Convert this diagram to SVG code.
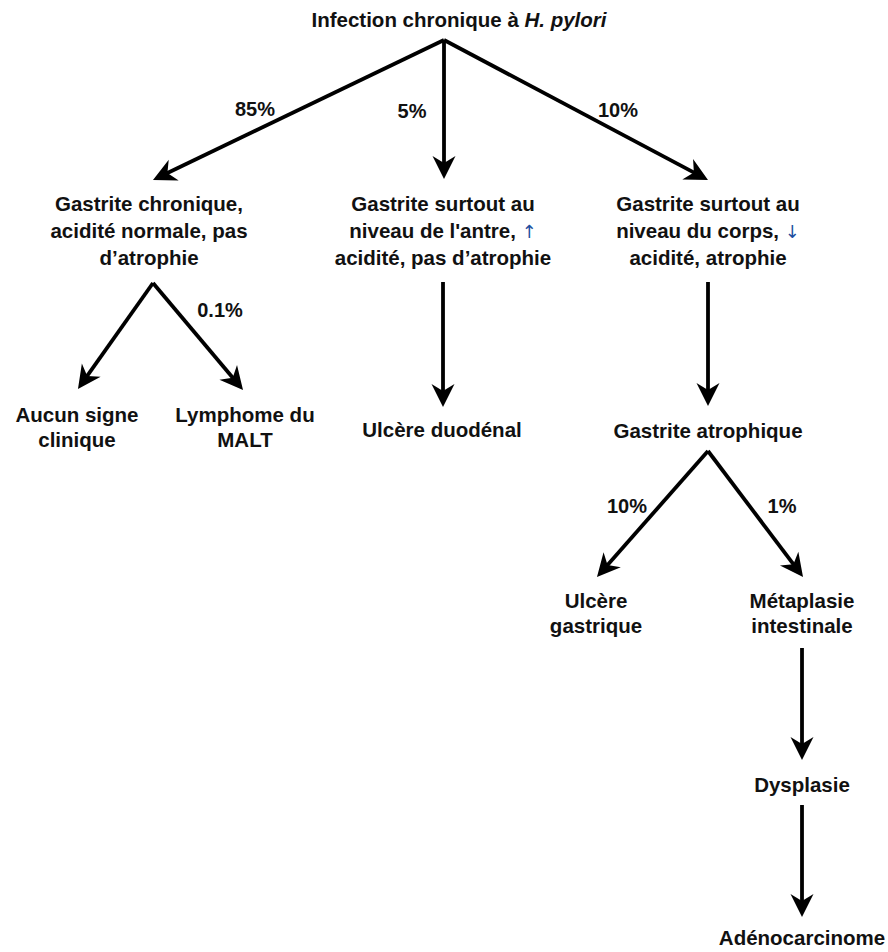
<svg xmlns="http://www.w3.org/2000/svg" width="888" height="952" viewBox="0 0 888 952">
<style>
text{font-family:"Liberation Sans",Arial,"DejaVu Sans",sans-serif;font-weight:bold;font-size:20.5px;fill:#111;text-anchor:middle}
.lbl{font-size:20px}
.blue{fill:#1f4fa0;font-family:"DejaVu Sans","Liberation Sans",sans-serif;font-weight:normal;font-size:18px}
.c{fill:none;stroke:#000;stroke-width:3.8;marker-end:url(#ah)}
</style>
<defs>
<marker id="ah" markerUnits="userSpaceOnUse" refX="0" refY="0" markerWidth="40" markerHeight="40" orient="auto" overflow="visible">
<path d="M12,0 L-11,-11.5 L-4,0 L-11,11.5 Z" fill="#000"/>
</marker>
</defs>
<rect width="888" height="952" fill="#fff"/>
<g id="connectors">
<path class="c" d="M444,40 L163.8,174.8"/>
<path class="c" d="M444,40 L444,167"/>
<path class="c" d="M444,40 L697.4,174.4"/>
<path class="c" d="M153,283 L84.9,379.2"/>
<path class="c" d="M153,283 L235.3,380.8"/>
<path class="c" d="M443,282 L443,395"/>
<path class="c" d="M708,282 L708,394"/>
<path class="c" d="M708,451 L604.9,568"/>
<path class="c" d="M708,451 L795.8,567.4"/>
<path class="c" d="M802,648 L802,748"/>
<path class="c" d="M802,805 L802,905"/>
<text class="lbl" x="255" y="116">85%</text>
<text class="lbl" x="412" y="118">5%</text>
<text class="lbl" x="618" y="117">10%</text>
<text class="lbl" x="220" y="317">0.1%</text>
<text class="lbl" x="627" y="513">10%</text>
<text class="lbl" x="782" y="513">1%</text>
</g>
<g id="n-infection"><text x="459" y="27">Infection chronique à <tspan font-style="italic">H. pylori</tspan></text></g>
<g id="n-gastrite-chronique"><text x="149" y="211"><tspan x="149">Gastrite chronique,</tspan><tspan x="149" dy="27">acidité normale, pas</tspan><tspan x="149" dy="27">d’atrophie</tspan></text></g>
<g id="n-gastrite-antre"><text x="443" y="211"><tspan x="443">Gastrite surtout au</tspan><tspan x="443" dy="27">niveau de l'antre, <tspan class="blue">↑</tspan></tspan><tspan x="443" dy="27">acidité, pas d’atrophie</tspan></text></g>
<g id="n-gastrite-corps"><text x="708" y="211"><tspan x="708">Gastrite surtout au</tspan><tspan x="708" dy="27">niveau du corps, <tspan class="blue">↓</tspan></tspan><tspan x="708" dy="27">acidité, atrophie</tspan></text></g>
<g id="n-aucun"><text x="77" y="422"><tspan x="77">Aucun signe</tspan><tspan x="77" dy="25">clinique</tspan></text></g>
<g id="n-lymphome"><text x="245" y="422"><tspan x="245">Lymphome du</tspan><tspan x="245" dy="25">MALT</tspan></text></g>
<g id="n-ulcere-duodenal"><text x="442" y="437">Ulcère duodénal</text></g>
<g id="n-gastrite-atrophique"><text x="708" y="438">Gastrite atrophique</text></g>
<g id="n-ulcere-gastrique"><text x="596" y="608"><tspan x="596">Ulcère</tspan><tspan x="596" dy="25">gastrique</tspan></text></g>
<g id="n-metaplasie"><text x="802" y="608"><tspan x="802">Métaplasie</tspan><tspan x="802" dy="25">intestinale</tspan></text></g>
<g id="n-dysplasie"><text x="802" y="792">Dysplasie</text></g>
<g id="n-adenocarcinome"><text x="802" y="945">Adénocarcinome</text></g>
</svg>
